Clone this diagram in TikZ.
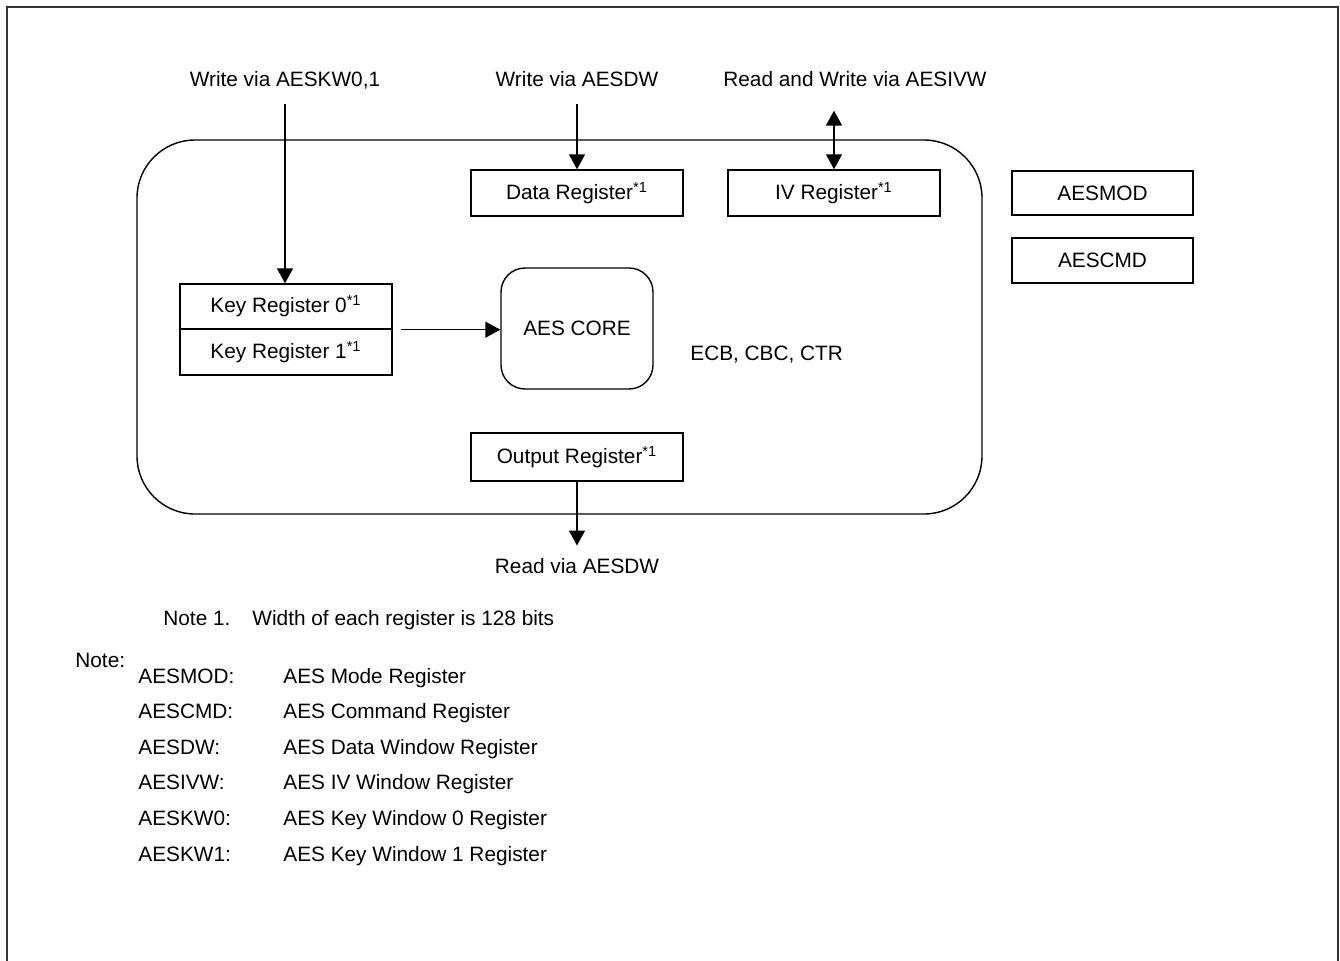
\documentclass[tikz,border=0pt]{standalone}
\usepackage{fontspec}
\setmainfont{Liberation Sans}
\usepackage{tikz}
\usetikzlibrary{arrows.meta, positioning}
\newcommand{\noteref}{\textsuperscript{*1}}

\begin{document}
\begin{tikzpicture}[
    x=0.5pt, y=-0.5pt,
    every node/.style = {font=\fontsize{10.4}{12.5}\selectfont},
    reg/.style = {rectangle, draw, line width=0.7pt, minimum width=106pt,
                  minimum height=23pt, inner sep=0pt},
    txt/.style = {inner sep=0pt, anchor=base},
    lbl/.style = {inner sep=0pt, anchor=base west},
    arrow/.style = {-{Triangle[length=7.5pt, width=8pt]}, line width=0.7pt}
  ]
    \useasboundingbox (0,0) rectangle (1340,960);
    % outer frame, open at the bottom
    \draw[line width=0.8pt, black!80] (7,990) -- (7,7) -- (1338,7) -- (1338,990);

    % AES block
    \draw[line width=0.7pt, rounded corners=29pt] (137,140) rectangle (982,514);

    \node[reg] (datareg) at (577,193) {Data Register\noteref};
    \node[reg] (ivreg) at (834,193) {IV Register\noteref};
    \node[reg, minimum width=90.5pt, minimum height=22pt] (modreg) at (1102.5,193) {AESMOD};
    \node[reg, minimum width=90.5pt, minimum height=22.5pt] (cmdreg) at (1102.5,260.5) {AESCMD};

    \node[reg, minimum height=22.5pt] (keyzero) at (286,306.5) {Key Register 0\noteref};
    \node[reg, below=-0.7pt of keyzero] (keyone) {Key Register 1\noteref};

    \node[rectangle, draw, line width=0.7pt, rounded corners=12pt,
          minimum width=76pt, minimum height=60.5pt] (core) at (577,328.5) {AES CORE};
    \node[lbl] (modes) at (690,360) {ECB, CBC, CTR};

    \node[reg, minimum height=24pt] (outreg) at (577,457) {Output Register\noteref};

    % port labels
    \node[txt] (kwlbl) at (285,86) {Write via AESKW0,1};
    \node[txt] (dwlbl) at (577,86) {Write via AESDW};
    \node[txt] (ivlbl) at (855,86) {Read and Write via AESIVW};
    \node[txt] (rdlbl) at (577,573) {Read via AESDW};

    \draw[arrow, shorten <=7.5pt] (kwlbl.south) -- (keyzero.north -| kwlbl.south);
    \draw[arrow, shorten <=8.5pt] (dwlbl.south) -- (datareg.north);
    \draw[{Triangle[length=7.5pt, width=8pt]}-{Triangle[length=7.5pt, width=8pt]},
          line width=0.7pt, shorten <=12pt] (ivreg.north |- ivlbl.south) -- (ivreg.north);
    \draw[arrow] ([xshift=4pt]keyzero.south east) -- (core.west |- keyzero.south east);
    \draw[arrow, shorten >=6pt] (outreg.south) -- (rdlbl.north);

    % notes
    \node[lbl] (noteone) at (163,625) {Note 1.\hspace{11pt}Width of each register is 128 bits};
    \node[lbl] (notehd) at (75,667) {Note:};
    \node[lbl] (nmod) at (138,683) {AESMOD:};
    \node[lbl] (ncmd) at (138,718.6) {AESCMD:};
    \node[lbl] (ndw) at (138,754.2) {AESDW:};
    \node[lbl] (nivw) at (138,789.8) {AESIVW:};
    \node[lbl] (nkwz) at (138,825.4) {AESKW0:};
    \node[lbl] (nkwo) at (138,861) {AESKW1:};
    \node[lbl] (dmod) at (283,683) {AES Mode Register};
    \node[lbl] (dcmd) at (283,718.6) {AES Command Register};
    \node[lbl] (ddw) at (283,754.2) {AES Data Window Register};
    \node[lbl] (divw) at (283,789.8) {AES IV Window Register};
    \node[lbl] (dkwz) at (283,825.4) {AES Key Window 0 Register};
    \node[lbl] (dkwo) at (283,861) {AES Key Window 1 Register};
  \end{tikzpicture}
\end{document}
